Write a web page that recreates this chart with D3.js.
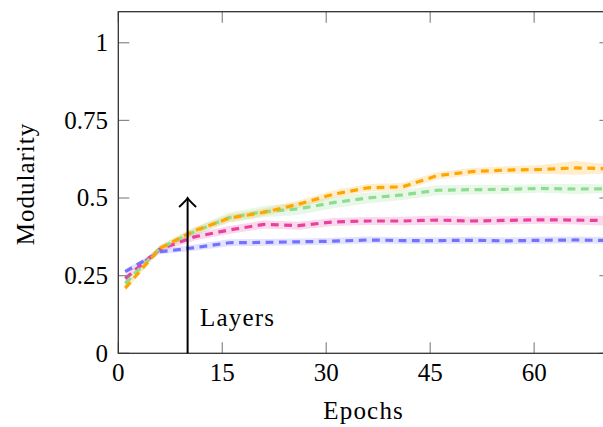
<!DOCTYPE html>
<html><head><meta charset="utf-8">
<script src="https://cdn.jsdelivr.net/npm/d3@7"></script>
<style>body{margin:0;background:#fff}svg{display:block}text{font-family:"Liberation Serif","Times New Roman",serif;fill:#000}</style>
</head><body>
<svg id="c" width="603" height="427"></svg>
<script>
const epochs = [1,6,11,16,21,26,31,36,41,46,51,56,61,66,71];
const blue   = [0.263,0.327,0.340,0.356,0.357,0.359,0.361,0.365,0.363,0.363,0.364,0.362,0.364,0.365,0.363];
const pink   = [0.241,0.335,0.375,0.397,0.415,0.411,0.423,0.426,0.426,0.429,0.426,0.428,0.430,0.429,0.427];
const green  = [0.225,0.338,0.392,0.437,0.456,0.465,0.485,0.500,0.510,0.525,0.527,0.528,0.531,0.529,0.530];
const orange = [0.210,0.338,0.395,0.435,0.454,0.480,0.512,0.533,0.536,0.572,0.585,0.590,0.592,0.597,0.594];
const blueSd   = [0.008,0.008,0.010,0.011,0.011,0.011,0.011,0.011,0.011,0.011,0.011,0.011,0.011,0.011,0.011];
const pinkSd   = [0.010,0.010,0.012,0.013,0.013,0.013,0.013,0.013,0.014,0.015,0.014,0.013,0.013,0.014,0.016];
const greenSd  = [0.010,0.010,0.013,0.016,0.018,0.020,0.018,0.018,0.016,0.016,0.016,0.014,0.014,0.016,0.014];
const orangeSd = [0.010,0.010,0.011,0.012,0.012,0.012,0.012,0.012,0.012,0.012,0.012,0.012,0.014,0.022,0.014];
const xTicks = [0,15,30,45,60];
const yTicks = [0,0.25,0.5,0.75,1];
const yTickLabels = ["0","0.25","0.5","0.75","1"];
const arrowEpoch = 10, arrowTop = 0.5;
const annotation = {text:"Layers", x:11.8, y:0.087};

const series = [
  {v:blue, sd:blueSd, color:"#7272ff"},
  {v:pink, sd:pinkSd, color:"#e8409e"},
  {v:green, sd:greenSd, color:"#8edc8e"},
  {v:orange, sd:orangeSd, color:"#ffa500"}
];

const svg = d3.select("#c");
const L=118.3, R=610.4, T=11.7, B=353.3;
const x = d3.scaleLinear().domain([0,71]).range([L,R]);
const y = d3.scaleLinear().domain([0,1.1]).range([B,T]);
const fs = 25, tl = 11;

const plot = svg.append("g");
series.forEach(s=>{
  const area = d3.area().x((d,i)=>x(epochs[i])).y0((d,i)=>y(d-s.sd[i])).y1((d,i)=>y(d+s.sd[i]));
  plot.append("path").attr("d",area(s.v)).attr("fill",s.color).attr("opacity",0.2);
});
series.forEach(s=>{
  const line = d3.line().x((d,i)=>x(epochs[i])).y(d=>y(d));
  plot.append("path").attr("d",line(s.v)).attr("fill","none").attr("stroke",s.color)
    .attr("stroke-width",3.2).attr("stroke-dasharray","7.8,5.5");
});

const tg = svg.append("g").attr("stroke","#888").attr("stroke-width",1.2);
xTicks.forEach(t=>{
  tg.append("line").attr("x1",x(t)).attr("x2",x(t)).attr("y1",B).attr("y2",B-tl);
  tg.append("line").attr("x1",x(t)).attr("x2",x(t)).attr("y1",T).attr("y2",T+tl);
});
yTicks.forEach(t=>{
  tg.append("line").attr("x1",L).attr("x2",L+tl).attr("y1",y(t)).attr("y2",y(t));
  tg.append("line").attr("x1",R).attr("x2",R-tl).attr("y1",y(t)).attr("y2",y(t));
});
svg.append("rect").attr("x",L).attr("y",T).attr("width",R-L).attr("height",B-T)
  .attr("fill","none").attr("stroke","#333").attr("stroke-width",1.3);

xTicks.forEach(t=>{
  svg.append("text").attr("x",x(t)).attr("y",381).attr("text-anchor","middle").attr("font-size",fs).text(t);
});
yTicks.forEach((t,i)=>{
  svg.append("text").attr("x",108).attr("y",y(t)+8.2).attr("text-anchor","end").attr("font-size",fs).text(yTickLabels[i]);
});
svg.append("text").attr("x",(L+603)/2+3).attr("y",419).attr("text-anchor","middle").attr("font-size",fs)
  .attr("letter-spacing",1.2).text("Epochs");
svg.append("text").attr("transform","translate(34,184) rotate(-90)").attr("text-anchor","middle").attr("font-size",fs)
  .attr("letter-spacing",1).text("Modularity");

const ax = x(arrowEpoch), ay = y(arrowTop);
svg.append("line").attr("x1",ax).attr("x2",ax).attr("y1",y(0)).attr("y2",ay+1).attr("stroke","#000").attr("stroke-width",2);
svg.append("path").attr("d",`M${ax-8.5},${ay+9} Q${ax-2},${ay+3} ${ax},${ay} Q${ax+2},${ay+3} ${ax+8.5},${ay+9}`)
  .attr("fill","none").attr("stroke","#000").attr("stroke-width",2);
svg.append("text").attr("x",x(annotation.x)).attr("y",y(annotation.y)).attr("font-size",fs)
  .attr("letter-spacing",1.2).text(annotation.text);
</script>
</body></html>
